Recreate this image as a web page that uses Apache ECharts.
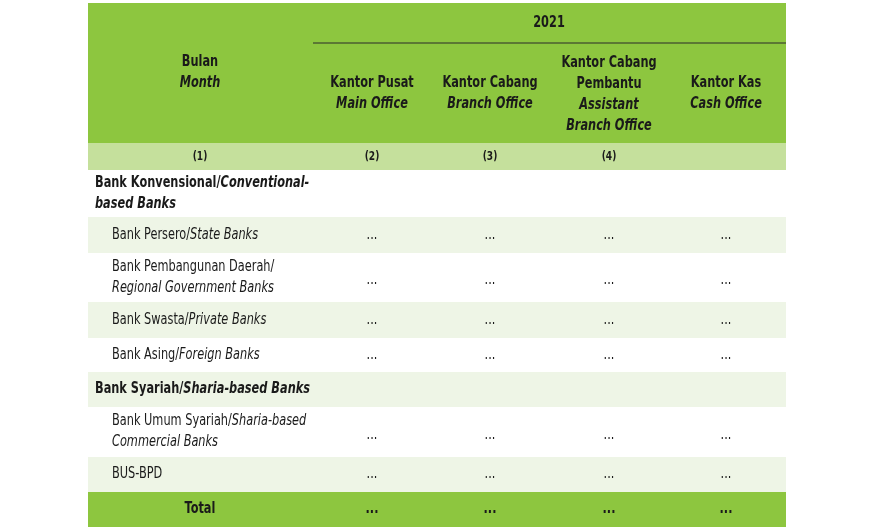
<!DOCTYPE html>
<html><head><meta charset="utf-8">
<script src="https://cdn.jsdelivr.net/npm/echarts@6/dist/echarts.min.js"></script>
<style>html,body{margin:0;padding:0;background:#fff}#c{width:875px;height:532px}</style>
</head><body><div id="c"></div>
<script>
const year = "2021";
const colHeaders = [
  ["{b|Bulan}", "{bi|Month}"],
  ["{b|Kantor Pusat}", "{bi|Main Office}"],
  ["{b|Kantor Cabang}", "{bi|Branch Office}"],
  ["{b|Kantor Cabang}", "{b|Pembantu}", "{bi|Assistant}", "{bi|Branch Office}"],
  ["{b|Kantor Kas}", "{bi|Cash Office}"]
];
const colNumbers = ["(1)", "(2)", "(3)", "(4)", ""];
const rowLabels = [
  ["{b|Bank Konvensional/}{bi|Conventional-}", "{bi|based Banks}"],
  ["{n|Bank Persero/}{i|State Banks}"],
  ["{n|Bank Pembangunan Daerah/}", "{i|Regional Government Banks}"],
  ["{n|Bank Swasta/}{i|Private Banks}"],
  ["{n|Bank Asing/}{i|Foreign Banks}"],
  ["{b|Bank Syariah/}{bi|Sharia-based Banks}"],
  ["{n|Bank Umum Syariah/}{i|Sharia-based}", "{i|Commercial Banks}"],
  ["{n|BUS-BPD}"]
];
const rowValues = [
  ["", "", "", ""],
  ["...", "...", "...", "..."],
  ["...", "...", "...", "..."],
  ["...", "...", "...", "..."],
  ["...", "...", "...", "..."],
  ["", "", "", ""],
  ["...", "...", "...", "..."],
  ["...", "...", "...", "..."]
];
const totalLabel = "Total";
const totalValues = ["...", "...", "...", "..."];

const FONT = "'Liberation Sans Narrow','DejaVu Sans Condensed',sans-serif";
const rich = {
  b:{fontWeight:'bold',fontSize:15,fontFamily:FONT,lineHeight:21,fill:'#1a1a1a'},
  bi:{fontWeight:'bold',fontStyle:'italic',fontSize:15,fontFamily:FONT,lineHeight:21,fill:'#1a1a1a'},
  n:{fontSize:15,fontFamily:FONT,lineHeight:21,fill:'#1a1a1a'},
  i:{fontStyle:'italic',fontSize:15,fontFamily:FONT,lineHeight:21,fill:'#1a1a1a'}
};
const X0 = 88, X1 = 786, W = X1 - X0;
const colCenters = [200, 372, 490, 609, 726];
const rowHeights = [47, 36, 49, 36, 34, 35, 50, 35];
const rowFills = ['#ffffff','#eef5e6','#ffffff','#eef5e6','#ffffff','#eef5e6','#ffffff','#eef5e6'];
const G = '#8dc63f', LG = '#c5e09c';
const els = [];
function txt(x,y,lines,align,va){
  els.push({type:'text',x,y,scaleX:0.84,style:{text:lines.join('\n'),rich,align:align||'center',verticalAlign:va||'middle'}});
}
els.push({type:'rect',shape:{x:X0,y:3,width:W,height:140},style:{fill:G}});
els.push({type:'line',shape:{x1:313,y1:43,x2:X1,y2:43},style:{stroke:'#2a2a2a',lineWidth:1}});
txt(549,23,["{b|"+year+"}"]);
colHeaders.forEach((h,i)=>txt(colCenters[i], i==0?73:(i==3?95:94), h));
els.push({type:'rect',shape:{x:X0,y:143,width:W,height:27},style:{fill:LG}});
colNumbers.forEach((c,i)=>{ if(c) els.push({type:'text',x:colCenters[i],y:157,scaleX:0.84,style:{text:c,align:'center',verticalAlign:'middle',font:'bold 12px '+FONT,fill:'#1a1a1a'}}); });
let y = 170;
rowLabels.forEach((lab,r)=>{
  const h = rowHeights[r];
  els.push({type:'rect',shape:{x:X0,y,width:W,height:h},style:{fill:rowFills[r]}});
  const header = (r===0||r===5);
  txt(header?95:112, y+h/2, lab, 'left');
  rowValues[r].forEach((v,c)=>{ if(v) txt(colCenters[c+1], y+h/2+(lab.length>1?3:0), ["{n|"+v+"}"]); });
  y += h;
});
els.push({type:'rect',shape:{x:X0,y,width:W,height:35},style:{fill:G}});
txt(200, y+17, ["{b|"+totalLabel+"}"]);
totalValues.forEach((v,c)=>txt(colCenters[c+1], y+17, ["{b|"+v+"}"]));

const chart = echarts.init(document.getElementById('c'));
chart.setOption({animation:false, graphic:{elements:els}});
</script></body></html>
